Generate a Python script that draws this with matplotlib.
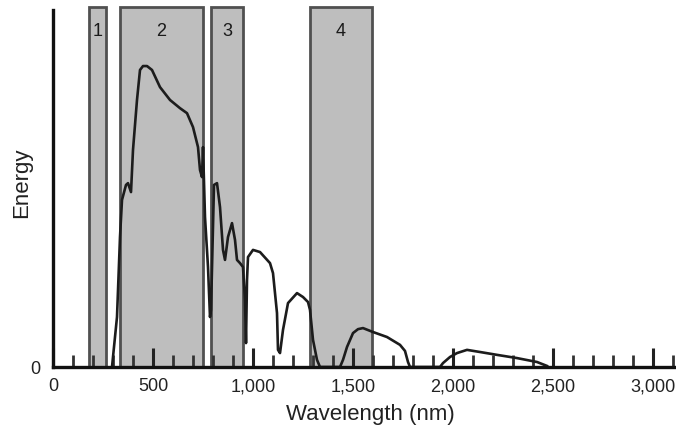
import matplotlib
matplotlib.use("Agg")
import matplotlib.pyplot as plt
from matplotlib.patches import Rectangle
from matplotlib.ticker import MultipleLocator, FuncFormatter

plt.rcParams['font.family'] = ['Liberation Sans', 'DejaVu Sans']

# Spectrum (arbitrary energy units, 0-100)
wavelength = [295, 320, 335, 345, 365, 375, 390, 400, 420, 435, 450, 470, 495, 535, 585, 635,
              670, 700, 725, 735, 745, 750, 760, 775, 785, 790, 805, 820, 835, 850, 860, 875,
              895, 910, 920, 935, 950, 960, 965, 970, 975, 1000, 1035, 1085, 1100, 1120, 1125,
              1135, 1150, 1175, 1220, 1250, 1275, 1285, 1300, 1320, 1335,
              1435, 1450, 1470, 1500, 1525, 1550, 1600, 1670, 1735, 1760, 1775, 1785,
              1935, 1950, 1985, 2020, 2070, 2135, 2220, 2320, 2420, 2470]
energy = [0, 14.0, 36.4, 46.8, 51.0, 51.5, 49.0, 60.8, 74.8, 83.2, 84.3, 84.3, 83.2, 78.4, 74.8, 72.5,
          71.1, 67.2, 61.6, 55.2, 53.2, 61.6, 42.0, 28.0, 14.0, 16.0, 51.0, 51.5, 44.8, 32.8, 30.0, 36.4,
          40.3, 35.6, 30.0, 29.1, 28.0, 18.8, 6.7, 24.4, 30.8, 32.8, 32.2, 29.1, 26.3, 15.1, 4.8,
          3.9, 10.4, 17.9, 20.7, 19.6, 18.2, 16.0, 7.6, 2.0, 0,
          0, 2.0, 5.6, 9.5, 10.6, 10.9, 9.8, 8.4, 6.2, 4.5, 1.4, 0,
          0, 1.1, 2.8, 3.9, 4.8, 4.2, 3.4, 2.5, 1.4, 0.3]

# Shaded bands (start, end in nm) and labels
band_start = [180, 335, 790, 1285]
band_end = [265, 750, 950, 1595]
band_labels = ["1", "2", "3", "4"]

fig = plt.figure(figsize=(6.76, 4.32), dpi=100)
ax = fig.add_axes([53/676, 65/432, 1 - 53/676, 357/432])

ax.set_xlim(0, 3115)
ax.set_ylim(0, 100)

for s, e, lab in zip(band_start, band_end, band_labels):
    r = Rectangle((s, 0), e - s, 100.8, facecolor="#bebebe", edgecolor="#505050",
                  linewidth=2.0, clip_on=False, zorder=1)
    ax.add_patch(r)
    ax.text((s + e) / 2, 94.1, lab, ha="center", va="center", fontsize=13,
            color="#1a1a1a", zorder=3)

ax.plot(wavelength, energy, color="#1c1c1c", linewidth=1.9, zorder=4)

for sp in ["top", "right"]:
    ax.spines[sp].set_visible(False)
for sp in ["left", "bottom"]:
    ax.spines[sp].set_linewidth(2.4)
    ax.spines[sp].set_color("#111111")
    ax.spines[sp].set_zorder(5)

ax.xaxis.set_major_locator(MultipleLocator(500))
ax.xaxis.set_minor_locator(MultipleLocator(100))
ax.xaxis.set_major_formatter(FuncFormatter(lambda v, p: f"{int(v):,}"))
ax.tick_params(axis="x", which="major", direction="in", length=14, width=2.2,
               colors="#222222", labelsize=13, labelcolor="#222222", pad=8)
ax.tick_params(axis="x", which="minor", direction="in", length=9, width=2.0, colors="#333333")
ax.set_yticks([0])
ax.set_yticklabels(["0"])
ax.tick_params(axis="y", length=0, labelsize=13, labelcolor="#222222", pad=9)

ax.set_xlabel("Wavelength (nm)", fontsize=16, color="#222222")
ax.set_ylabel("Energy", fontsize=16, color="#222222")
ax.xaxis.set_label_coords(0.51, -0.104)
ax.yaxis.set_label_coords(-0.033, 0.515)

fig.savefig("out.png", dpi=100)
